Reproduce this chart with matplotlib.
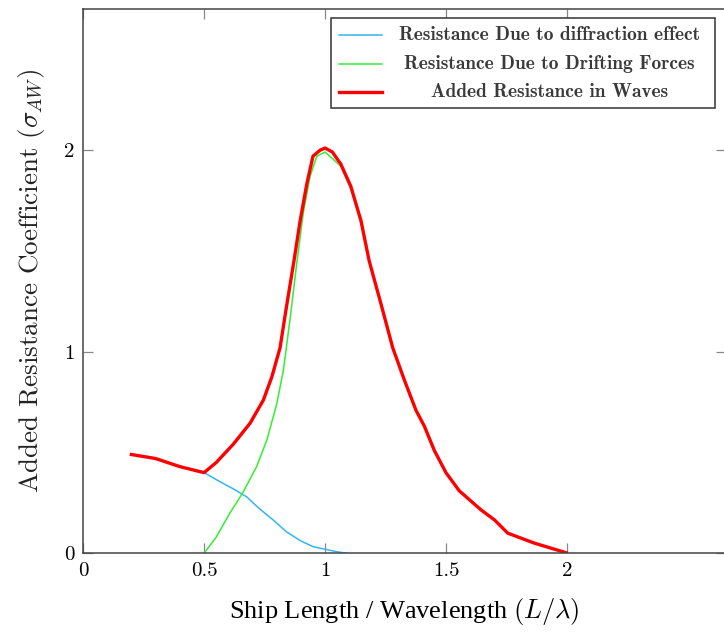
import numpy as np
import matplotlib.pyplot as plt
from matplotlib.patches import Rectangle

plt.rcParams['mathtext.fontset'] = 'cm'
plt.rcParams['axes.formatter.use_mathtext'] = True

# Data
diff_x = [0.50, 0.566, 0.62, 0.676, 0.73, 0.786, 0.84, 0.897, 0.95, 1.00, 1.048, 1.09]
diff_y = [0.40, 0.355, 0.32, 0.28, 0.22, 0.165, 0.107, 0.063, 0.033, 0.02, 0.008, 0.0]

drift_x = [0.50, 0.55, 0.607, 0.66, 0.717, 0.759, 0.80, 0.828, 0.855, 0.883, 0.91, 0.938, 0.966, 1.00,
           1.065, 1.106, 1.148, 1.182, 1.23, 1.279, 1.327, 1.375, 1.41, 1.451, 1.499, 1.554, 1.644,
           1.70, 1.754, 1.865, 1.995]
drift_y = [0.0, 0.08, 0.20, 0.30, 0.43, 0.56, 0.74, 0.91, 1.16, 1.44, 1.69, 1.87, 1.97, 1.99,
           1.92, 1.81, 1.64, 1.45, 1.24, 1.02, 0.86, 0.71, 0.63, 0.51, 0.40, 0.31, 0.215,
           0.165, 0.10, 0.05, 0.003]

total_x = [0.20, 0.30, 0.40, 0.50, 0.55, 0.62, 0.69, 0.745, 0.78, 0.814, 0.84, 0.87, 0.897, 0.924,
           0.95, 0.98, 1.00, 1.03, 1.065, 1.106, 1.148, 1.182, 1.23, 1.279, 1.327, 1.375, 1.41, 1.451,
           1.499, 1.554, 1.644, 1.70, 1.754, 1.865, 1.995]
total_y = [0.49, 0.47, 0.43, 0.40, 0.45, 0.54, 0.645, 0.76, 0.875, 1.02, 1.22, 1.44, 1.65, 1.83,
           1.97, 2.00, 2.01, 1.99, 1.93, 1.82, 1.65, 1.45, 1.24, 1.02, 0.86, 0.71, 0.63, 0.51,
           0.40, 0.31, 0.215, 0.165, 0.10, 0.05, 0.003]

x_ticks = [0, 0.5, 1, 1.5, 2]
x_tick_labels = ['0', '0.5', '1', '1.5', '2']
y_ticks = [0, 1, 2]

labels = ['Resistance Due to diffraction effect',
          'Resistance Due to Drifting Forces',
          'Added Resistance in Waves']
colors = ['#33b5f0', '#33ee33', '#ff0000']
widths = [1.1, 1.1, 2.4]

fig = plt.figure(figsize=(7.24, 6.37), dpi=100)
ax = fig.add_axes([0.1146, 0.1314, 0.888, 0.8546])

ax.plot(diff_x, diff_y, color=colors[0], lw=widths[0])
ax.plot(drift_x, drift_y, color=colors[1], lw=widths[1])
ax.plot(total_x, total_y, color=colors[2], lw=widths[2], solid_joinstyle='round')

ax.set_xlim(0, 2.655)
ax.set_ylim(0, 2.70)
ax.set_xticks(x_ticks)
ax.set_xticklabels(x_tick_labels, fontfamily='cmr10', fontsize=15)
ax.set_yticks(y_ticks)
ax.set_yticklabels([str(v) for v in y_ticks], fontfamily='cmr10', fontsize=15)
ax.tick_params(direction='in', length=7, width=0.9, color='#888888',
               top=True, right=True, pad=6)

for s in ax.spines.values():
    s.set_color('#444444')
    s.set_linewidth(1.1)

ax.set_ylabel(r'Added Resistance Coefficient $(\sigma_{AW})$',
              fontfamily='cmr10', fontsize=19.5, labelpad=12, color='#222222')
ax.set_xlabel(r'Ship Length / Wavelength $(L/\lambda)$',
              fontfamily='Liberation Serif', fontsize=19, labelpad=12)

# legend box, pgfplots style: handles on the left, text centred
lx0, lx1 = 0.3853, 0.9825
ly0, ly1 = 0.8176, 0.9828
ax.add_patch(Rectangle((lx0, ly0), lx1 - lx0, ly1 - ly0, transform=ax.transAxes,
                       facecolor='white', edgecolor='#333333', lw=1.1, zorder=5))
rows = [0.9518, 0.8996, 0.8474]
for lab, c, w, ry in zip(labels, colors, widths, rows):
    ax.plot([0.3978, 0.4655], [ry, ry], color=c, lw=w, transform=ax.transAxes, zorder=6)
    ax.text(0.7256, ry, lab, transform=ax.transAxes, ha='center', va='center',
            fontfamily='cmb10', fontsize=14, color='#3a3a3a', zorder=6)

fig.savefig('out.png', dpi=100)
